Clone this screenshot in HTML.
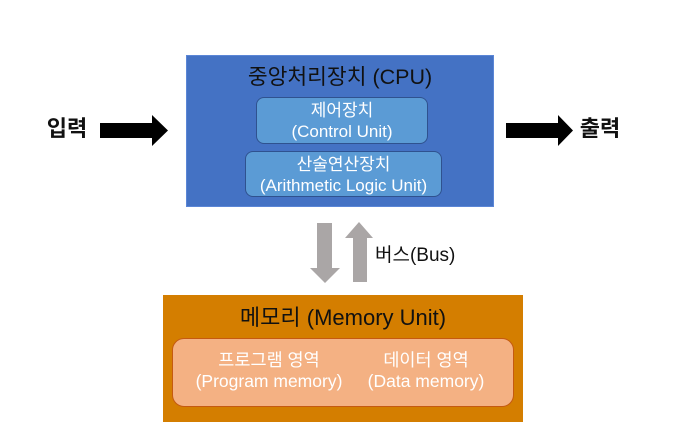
<!DOCTYPE html>
<html><head><meta charset="utf-8"><style>
body{margin:0;width:674px;height:444px;background:#fff;position:relative;overflow:hidden;font-family:"Liberation Sans","Noto Sans CJK KR",sans-serif}
.a{position:absolute;box-sizing:border-box;text-align:center}
</style></head><body>
<div class="a" style="left:186px;top:55px;width:308px;height:152px;background:#4472c4;border:1px solid #5b86d6"></div>
<div class="a" style="left:186px;top:64px;width:308px;font-size:21.5px;line-height:26px;color:#111">중앙처리장치 (CPU)</div>
<div class="a" style="left:256px;top:97px;width:172px;height:47px;background:#5b9bd5;border:1px solid #2f528f;border-radius:8px;color:#fff;font-size:17px;line-height:21px;padding-top:2px">제어장치<br>(Control Unit)</div>
<div class="a" style="left:245px;top:151px;width:197px;height:46px;background:#5b9bd5;border:1px solid #2f528f;border-radius:8px;color:#fff;font-size:17px;line-height:21px;padding-top:2px">산술연산장치<br>(Arithmetic Logic Unit)</div>

<div class="a" style="left:40px;top:116px;width:54px;font-size:22px;font-weight:bold;line-height:26px;color:#111">입력</div>
<div class="a" style="left:570px;top:116px;width:60px;font-size:22px;font-weight:bold;line-height:26px;color:#111">출력</div>
<svg class="a" style="left:0;top:0" width="674" height="444">
<polygon points="100,123 152,123 152,115 168,130.5 152,146 152,138 100,138" fill="#000"/>
<polygon points="506,123 558,123 558,115 573,130.5 558,146 558,138 506,138" fill="#000"/>
<polygon points="317,223 332,223 332,268 340,268 325,283 310,268 317,268" fill="#aaa6a6"/>
<polygon points="353,282 367,282 367,238 373,238 359,222 345,238 353,238" fill="#aaa6a6"/>
</svg>
<div class="a" style="left:375px;top:244px;width:95px;text-align:left;font-size:19px;line-height:24px;color:#111">버스(Bus)</div>

<div class="a" style="left:163px;top:295px;width:360px;height:127px;background:#d47e00"></div>
<div class="a" style="left:163px;top:305px;width:360px;font-size:22px;line-height:26px;color:#111">메모리 (Memory Unit)</div>
<div class="a" style="left:172px;top:338px;width:342px;height:69px;background:#f4b183;border:1px solid #c55a11;border-radius:12px"></div>
<div class="a" style="left:184px;top:350px;width:170px;color:#fff;font-size:17.5px;line-height:21px">프로그램 영역<br>(Program memory)</div>
<div class="a" style="left:360px;top:350px;width:132px;color:#fff;font-size:17.5px;line-height:21px">데이터 영역<br>(Data memory)</div>
</body></html>
